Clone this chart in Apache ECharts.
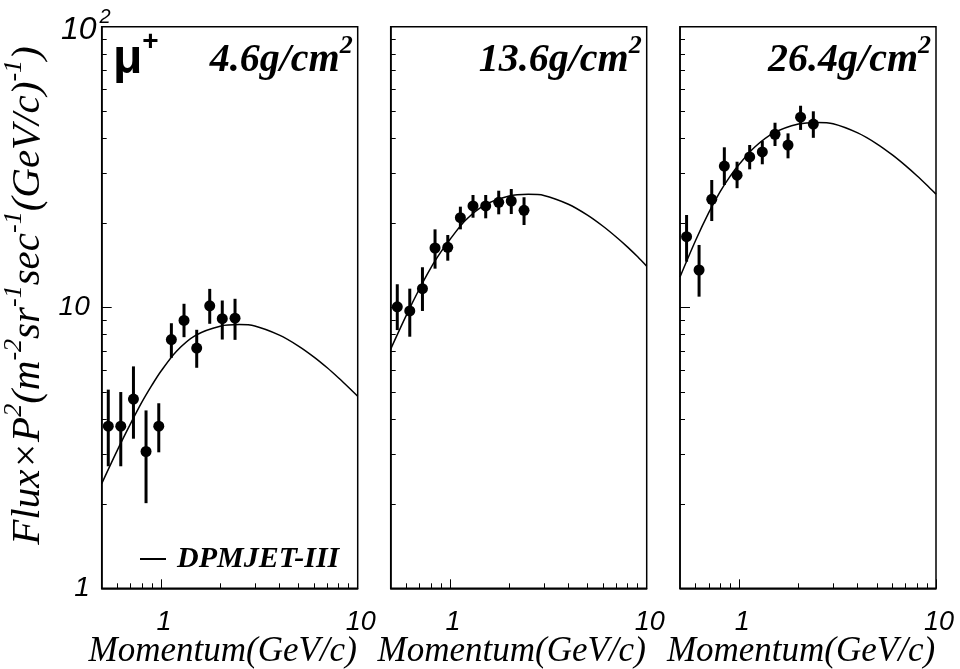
<!DOCTYPE html>
<html>
<head>
<meta charset="utf-8">
<script src="https://cdn.jsdelivr.net/npm/echarts@6/dist/echarts.min.js"></script>
<style>
  html, body { margin: 0; padding: 0; background: #ffffff; }
  #chart { width: 960px; height: 669px; }
</style>
</head>
<body>
<div id="chart"></div>
<script>
// Momentum bin centres (GeV/c), shared by the three atmospheric depths
const momentum = [0.54, 0.625, 0.725, 0.84, 0.975, 1.13, 1.31, 1.52, 1.77, 2.05, 2.38];

// Measured mu+ flux x P^2 with error-bar bounds, 4.6 g/cm2
const flux46   = [3.78, 3.78, 4.72, 3.07, 3.78, 7.69, 8.99, 7.17, 10.14, 9.12, 9.16];
const flux46Lo = [2.72, 2.72, 3.41, 2.01, 3.05, 6.62, 7.84, 6.10, 8.75, 7.69, 7.67];
const flux46Hi = [5.10, 5.00, 6.17, 4.30, 4.56, 8.79, 10.31, 8.33, 11.65, 10.59, 10.74];

// 13.6 g/cm2
const flux136   = [10.06, 9.72, 11.67, 16.29, 16.38, 20.88, 22.99, 22.99, 23.70, 23.95, 22.19];
const flux136Lo = [8.31, 7.87, 9.72, 13.75, 14.68, 18.98, 20.88, 20.78, 21.47, 21.52, 19.67];
const flux136Hi = [12.10, 11.67, 13.91, 18.98, 18.12, 22.86, 25.16, 25.16, 26.06, 26.42, 24.70];

// 26.4 g/cm2
const flux264   = [17.87, 13.60, 24.29, 31.90, 29.60, 34.36, 35.80, 41.40, 37.90, 47.60, 45.00];
const flux264Lo = [14.56, 10.93, 20.32, 27.30, 26.60, 31.05, 32.36, 37.60, 33.98, 42.90, 40.20];
const flux264Hi = [21.35, 16.70, 28.45, 37.20, 33.05, 37.90, 39.20, 45.50, 41.70, 52.30, 49.97];

// DPMJET-III prediction sampled along momentum
const modelMomentum = [0.5, 0.6, 0.7, 0.8, 0.9, 1.0, 1.2, 1.5, 2, 2.5, 3, 4, 5, 6, 7, 8, 9, 10];
const model46  = [2.36, 3.10, 3.85, 4.60, 5.29, 5.93, 6.99, 7.96, 8.58, 8.69, 8.59, 7.97, 7.29, 6.66, 6.10, 5.61, 5.19, 4.83];
const model136 = [7.11, 9.37, 11.66, 13.85, 15.77, 17.47, 20.44, 23.16, 24.96, 25.29, 25.07, 23.32, 21.33, 19.47, 17.83, 16.41, 15.15, 14.02];
const model264 = [12.85, 17.33, 21.77, 25.85, 29.36, 32.37, 37.28, 41.85, 45.00, 45.60, 45.10, 41.85, 38.28, 34.94, 32.00, 29.46, 27.25, 25.34];

// Panel labels and axis ticks
const depthLabels = ['4.6', '13.6', '26.4'];
const xLabelValues = [1, 10];
const xMinorTicks = [0.6, 0.7, 0.8, 0.9, 2, 3, 4, 5, 6, 7, 8, 9];
const yLabelValues = [1, 10];
const yTopLabel = [100];
const yMajorTicks = [10];
const yMinorTicks = [2, 3, 4, 5, 6, 7, 8, 9, 20, 30, 40, 50, 60, 70, 80, 90];

const panels = [
  { flux: flux46,  lo: flux46Lo,  hi: flux46Hi,  model: model46 },
  { flux: flux136, lo: flux136Lo, hi: flux136Hi, model: model136 },
  { flux: flux264, lo: flux264Lo, hi: flux264Hi, model: model264 }
];

const serif = "'Liberation Serif', 'Times New Roman', serif";
const sans = "'Liberation Sans', Arial, sans-serif";

// Frame geometry of the three pads
const padLeft = [101.7, 390.7, 680];
const padWidth = 256;
const padTop = 26.7;
const padHeight = 561.6;

const grids = [], xAxes = [], yAxes = [], series = [], titles = [];

panels.forEach((p, i) => {
  grids.push({
    left: padLeft[i], top: padTop, width: padWidth, height: padHeight,
    show: true, borderColor: '#000', borderWidth: 1.5, backgroundColor: 'transparent',
    containLabel: false, outerBoundsMode: 'none'
  });

  // major x axis: line, long ticks, labels, title
  xAxes.push({
    type: 'log', logBase: 10, gridIndex: i, position: 'bottom', min: 0.5, max: 10,
    axisLine: { show: true, lineStyle: { color: '#000', width: 1.5 } },
    axisTick: { show: true, inside: true, length: 9, customValues: xLabelValues,
                lineStyle: { color: '#000', width: 1 } },
    axisLabel: { show: true, customValues: xLabelValues, margin: 21, color: '#000',
                 fontFamily: sans, fontStyle: 'italic', fontSize: 27,
                 padding: [0, 0, 0, 6],
                 formatter: v => String(Math.round(v)) },
    splitLine: { show: false },
    name: 'Momentum(GeV/c)', nameLocation: 'middle', nameGap: 46, nameMoveOverlap: false,
    nameTextStyle: { fontFamily: serif, fontStyle: 'italic', fontSize: 35, color: '#000',
                     verticalAlign: 'top', padding: [0, 14, 0, 0] }
  });
  // minor x ticks
  xAxes.push({
    type: 'log', logBase: 10, gridIndex: i, position: 'bottom', min: 0.5, max: 10,
    axisLine: { show: false },
    axisTick: { show: true, inside: true, length: 5, customValues: xMinorTicks,
                lineStyle: { color: '#000', width: 1 } },
    axisLabel: { show: false },
    splitLine: { show: false }
  });

  const yMajor = {
    type: 'log', logBase: 10, gridIndex: i, position: 'left', min: 1, max: 100,
    axisLine: { show: true, lineStyle: { color: '#000', width: 1.5 } },
    axisTick: { show: true, inside: true, length: 10, customValues: yMajorTicks,
                lineStyle: { color: '#000', width: 1 } },
    axisLabel: { show: i === 0, customValues: yLabelValues, margin: 12, color: '#000',
                 fontFamily: sans, fontStyle: 'italic', fontSize: 28,
                 formatter: v => String(Math.round(v)) },
    splitLine: { show: false }
  };
  if (i === 0) {
    yMajor.name = '{t|Flux×P}{s|2}{t|(m}{s|-2}{t|sr}{s|-1}{t|sec}{s|-1}{t|(GeV/c)}{s|-1}{t|)}';
    yMajor.nameLocation = 'middle';
    yMajor.nameRotate = 90;
    yMajor.nameGap = 53;
    yMajor.nameTextStyle = {
      padding: [0, 0, 0, 24],
      rich: {
        t: { fontFamily: serif, fontStyle: 'italic', fontSize: 41, color: '#000',
             lineHeight: 48, verticalAlign: 'bottom' },
        s: { fontFamily: serif, fontStyle: 'italic', fontSize: 26, color: '#000',
             lineHeight: 26, verticalAlign: 'top' }
      }
    };
  }
  yAxes.push(yMajor);
  // minor y ticks, plus the 10^2 label on the first pad
  yAxes.push({
    type: 'log', logBase: 10, gridIndex: i, position: 'left', min: 1, max: 100,
    axisLine: { show: false },
    axisTick: { show: true, inside: true, length: 5, customValues: yMinorTicks,
                lineStyle: { color: '#000', width: 1 } },
    axisLabel: { show: i === 0, customValues: yTopLabel, margin: -9, align: 'right',
                 formatter: () => '{m|10}{e|2}',
                 rich: {
                   m: { fontFamily: sans, fontStyle: 'italic', fontSize: 32, color: '#000',
                        lineHeight: 38, verticalAlign: 'bottom', padding: [0, 3, 0, 0] },
                   e: { fontFamily: sans, fontStyle: 'italic', fontSize: 20, color: '#000',
                        lineHeight: 20, verticalAlign: 'top' }
                 } },
    splitLine: { show: false }
  });

  // DPMJET-III curve
  series.push({
    type: 'line', name: 'DPMJET-III', xAxisIndex: 2 * i, yAxisIndex: 2 * i,
    data: modelMomentum.map((m, k) => [m, p.model[k]]),
    smooth: 0.3, showSymbol: false, symbol: 'none', silent: true,
    lineStyle: { color: '#000', width: 1.5 }, itemStyle: { color: '#000' }, z: 2
  });
  // vertical error bars
  series.push({
    type: 'custom', name: 'err' + i, xAxisIndex: 2 * i, yAxisIndex: 2 * i,
    data: momentum.map((m, k) => [m, p.lo[k], p.hi[k]]),
    encode: { x: 0, y: [1, 2] }, silent: true, z: 3,
    renderItem: (params, api) => {
      const a = api.coord([api.value(0), api.value(1)]);
      const b = api.coord([api.value(0), api.value(2)]);
      return { type: 'line', shape: { x1: a[0], y1: a[1], x2: b[0], y2: b[1] },
               style: { stroke: '#000', lineWidth: 3 } };
    }
  });
  // measured points
  series.push({
    type: 'scatter', name: 'data' + i, xAxisIndex: 2 * i, yAxisIndex: 2 * i,
    data: momentum.map((m, k) => [m, p.flux[k]]),
    symbol: 'circle', symbolSize: 11, silent: true,
    itemStyle: { color: '#000', opacity: 1 }, z: 4
  });

  titles.push({
    text: '{b|' + depthLabels[i] + 'g/cm}{s|2}',
    right: 960 - (padLeft[i] + padWidth - 5), top: 33, padding: 0,
    textStyle: {
      rich: {
        b: { fontFamily: serif, fontStyle: 'italic', fontWeight: 'bold', fontSize: 40,
             color: '#000', lineHeight: 48, verticalAlign: 'bottom' },
        s: { fontFamily: serif, fontStyle: 'italic', fontWeight: 'bold', fontSize: 26,
             color: '#000', lineHeight: 38, verticalAlign: 'top' }
      }
    }
  });
});

titles.push({
  text: '{m|μ}{p|+}', left: 113, top: 28, padding: 0,
  textStyle: {
    rich: {
      m: { fontFamily: sans, fontSize: 48, color: '#000', lineHeight: 56, verticalAlign: 'bottom' },
      p: { fontFamily: sans, fontSize: 28, color: '#000', lineHeight: 28, verticalAlign: 'top' }
    }
  }
});

const chart = echarts.init(document.getElementById('chart'), null, { renderer: 'canvas' });
chart.setOption({
  animation: false,
  backgroundColor: '#ffffff',
  title: titles,
  legend: {
    data: ['DPMJET-III'], left: 140, top: 544, padding: 0,
    icon: 'rect', itemWidth: 26, itemHeight: 2, selectedMode: false,
    itemStyle: { color: '#000' },
    textStyle: { fontFamily: serif, fontStyle: 'italic', fontWeight: 'bold', fontSize: 30,
                 color: '#000', padding: [0, 0, 0, 6] }
  },
  tooltip: { show: false },
  grid: grids,
  xAxis: xAxes,
  yAxis: yAxes,
  series: series
});
</script>
</body>
</html>
